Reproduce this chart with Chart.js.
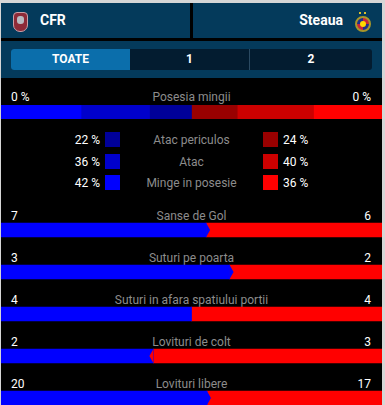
<!DOCTYPE html>
<html>
<head>
<meta charset="utf-8">
<script src="https://cdn.jsdelivr.net/npm/chart.js"></script>
<style>
  html, body { margin: 0; padding: 0; overflow: hidden; }
  body { width: 385px; height: 405px; background: #d6d6d6; font-family: Roboto, "Noto Sans", sans-serif; }
  #box { position: absolute; left: 1px; top: 3px; width: 381px; height: 402px; background: #000; overflow: hidden; }
  .abs { position: absolute; }
  #head { left: 0; top: 0; width: 381px; height: 35px; background: #043a5b; }
  #vsep { left: 189px; top: 0; width: 3px; height: 35px; background: #000; }
  #hline { left: 0; top: 35px; width: 381px; height: 3px; background: #000; }
  .team { top: 0; height: 35px; line-height: 35px; color: #fff; font-weight: bold; font-size: 14px; }
  #tabs { left: 0; top: 38px; width: 381px; height: 37px; background: #043a5b; }
  #pill { left: 10px; top: 8px; width: 361px; height: 21px; border-radius: 3px; background: #031c30; overflow: hidden; }
  .tab { top: 0; height: 21px; line-height: 21px; text-align: center; color: #fff; font-weight: bold; font-size: 12px; }
  .lbl { color: #8c8c8c; font-size: 12px; text-align: center; white-space: nowrap; }
  .val { color: #fff; font-size: 12px; white-space: nowrap; }
  .sq { width: 15px; height: 15px; }
</style>
</head>
<body>
<div id="box">
  <div id="head" class="abs"></div>
  <div id="vsep" class="abs"></div>
  <div id="hline" class="abs"></div>
  <!-- CFR crest -->
  <div class="abs" style="left:12px;top:9px;width:15px;height:20px;background:#8e2a38;border-radius:4px 4px 7px 7px;border:1px solid #c9a0a8;box-sizing:border-box;"></div>
  <div class="abs" style="left:16px;top:13px;width:7px;height:8px;background:#b9b9c0;border-radius:3px;"></div>
  <div class="abs team" style="left:39px;">CFR</div>
  <div class="abs team" style="right:39px;">Steaua</div>
  <!-- Steaua crest -->
  <div class="abs" style="left:354px;top:13px;width:16px;height:16px;border-radius:50%;background:conic-gradient(#c8243a 0 25%, #1d2f8a 0 50%, #c8243a 0 75%, #1d2f8a 0);border:2px solid #a8962a;box-sizing:border-box;"></div>
  <div class="abs" style="left:359px;top:18px;width:6px;height:6px;border-radius:50%;background:#ffd800;"></div>
  <div class="abs" style="left:358px;top:9px;width:2px;height:2px;background:#d8c030;"></div>
  <div class="abs" style="left:363px;top:9px;width:2px;height:2px;background:#d8c030;"></div>

  <div id="tabs" class="abs">
    <div id="pill" class="abs">
      <div class="abs tab" style="left:0;width:119px;background:#0b6eab;">TOATE</div>
      <div class="abs tab" style="left:119px;width:119px;">1</div>
      <div class="abs" style="left:238px;top:0;width:1px;height:21px;background:#2b4a62;"></div>
      <div class="abs tab" style="left:239px;width:122px;">2</div>
    </div>
  </div>

  <div id="texts"></div>
  <canvas id="posesie" class="abs" width="381" height="14" style="left:0;top:102px;"></canvas>
  <canvas id="statistici" class="abs" width="381" height="210" style="left:0;top:206px;"></canvas>
</div>

<script>
// posesie (valori procentuale)
var posesieStanga = "0 %";
var posesieDreapta = "0 %";
var categoriiPosesie = ["Atac periculos", "Atac", "Minge in posesie"];
var acasaPosesie = [22, 36, 42];
var deplasarePosesie = [24, 40, 36];
var culoriAcasa = ["#000099", "#0000cc", "#0000ff"];
var culoriDeplasare = ["#990000", "#cc0000", "#ff0000"];

// statistici meci
var categorii = ["Sanse de Gol", "Suturi pe poarta", "Suturi in afara spatiului portii", "Lovituri de colt", "Lovituri libere"];
var acasa = [7, 3, 4, 2, 20];
var deplasare = [6, 2, 4, 3, 17];

var texte = document.getElementById("texts");
function adaugaText(html, cls, style) {
  var d = document.createElement("div");
  d.className = "abs " + cls;
  d.style.cssText = style;
  d.innerHTML = html;
  texte.appendChild(d);
}

adaugaText(posesieStanga, "val", "left:10px;top:87px;line-height:14px;");
adaugaText(posesieDreapta, "val", "right:11px;top:87px;line-height:14px;");
adaugaText("Posesia mingii", "lbl", "left:0;width:381px;top:87px;line-height:14px;");

for (var i = 0; i < categoriiPosesie.length; i++) {
  var y = 130 + i * 21.5;
  adaugaText(acasaPosesie[i] + " %", "val", "right:282px;top:" + y + "px;line-height:14px;");
  adaugaText("", "sq", "left:104px;top:" + (y - 1) + "px;background:" + culoriAcasa[i] + ";");
  adaugaText(categoriiPosesie[i], "lbl", "left:0;width:381px;top:" + y + "px;line-height:14px;");
  adaugaText("", "sq", "left:262px;top:" + (y - 1) + "px;background:" + culoriDeplasare[i] + ";");
  adaugaText(deplasarePosesie[i] + " %", "val", "left:282px;top:" + y + "px;line-height:14px;");
}

for (var j = 0; j < categorii.length; j++) {
  var yy = 206 + j * 42;
  adaugaText(acasa[j], "val", "left:10px;top:" + yy + "px;line-height:14px;");
  adaugaText(deplasare[j], "val", "right:11px;top:" + yy + "px;line-height:14px;");
  adaugaText(categorii[j], "lbl", "left:0;width:381px;top:" + yy + "px;line-height:14px;");
}

// bara de posesie: acasa de la Minge spre Atac periculos, apoi deplasare invers
var seturiPosesie = [];
for (var a = categoriiPosesie.length - 1; a >= 0; a--) {
  seturiPosesie.push({ data: [acasaPosesie[a]], backgroundColor: culoriAcasa[a] });
}
for (var b = 0; b < categoriiPosesie.length; b++) {
  seturiPosesie.push({ data: [deplasarePosesie[b]], backgroundColor: culoriDeplasare[b] });
}

var sumaAcasa = acasaPosesie.reduce(function (s, v) { return s + v; }, 0);
var sumaDeplasare = deplasarePosesie.reduce(function (s, v) { return s + v; }, 0);

new Chart(document.getElementById("posesie"), {
  type: "bar",
  data: { labels: ["Posesia mingii"], datasets: seturiPosesie },
  options: {
    indexAxis: "y",
    responsive: false,
    animation: false,
    layout: { padding: 0 },
    datasets: { bar: { barPercentage: 1, categoryPercentage: 1, borderWidth: 0 } },
    plugins: { legend: { display: false }, tooltip: { enabled: false } },
    scales: {
      x: { display: false, stacked: true, min: 0, max: sumaAcasa + sumaDeplasare },
      y: { display: false, stacked: true }
    }
  }
});

// sageata la despartire, spre echipa cu mai putin
var sageata = {
  id: "sageata",
  afterDatasetsDraw: function (chart) {
    var ctx = chart.ctx;
    var meta = chart.getDatasetMeta(0);
    meta.data.forEach(function (bar, k) {
      if (acasa[k] === deplasare[k]) return;
      var x = bar.x;
      var sus = bar.y - 7, jos = bar.y + 7;
      ctx.save();
      ctx.beginPath();
      if (acasa[k] > deplasare[k]) {
        ctx.fillStyle = "#0000ff";
        ctx.moveTo(x, sus); ctx.lineTo(x + 4, bar.y); ctx.lineTo(x, jos);
      } else {
        ctx.fillStyle = "#ff0000";
        ctx.moveTo(x, sus); ctx.lineTo(x - 4, bar.y); ctx.lineTo(x, jos);
      }
      ctx.closePath();
      ctx.fill();
      ctx.restore();
    });
  }
};

new Chart(document.getElementById("statistici"), {
  type: "bar",
  data: {
    labels: categorii,
    datasets: [
      { data: acasa.map(function (v, k) { return v / (v + deplasare[k]) * 100; }), backgroundColor: "#0000ff" },
      { data: deplasare.map(function (v, k) { return v / (v + acasa[k]) * 100; }), backgroundColor: "#ff0000" }
    ]
  },
  options: {
    indexAxis: "y",
    responsive: false,
    animation: false,
    layout: { padding: 0 },
    datasets: { bar: { barThickness: 14, borderWidth: 0 } },
    plugins: { legend: { display: false }, tooltip: { enabled: false } },
    scales: {
      x: { display: false, stacked: true, min: 0, max: 100 },
      y: { display: false, stacked: true }
    }
  },
  plugins: [sageata]
});
</script>
</body>
</html>
